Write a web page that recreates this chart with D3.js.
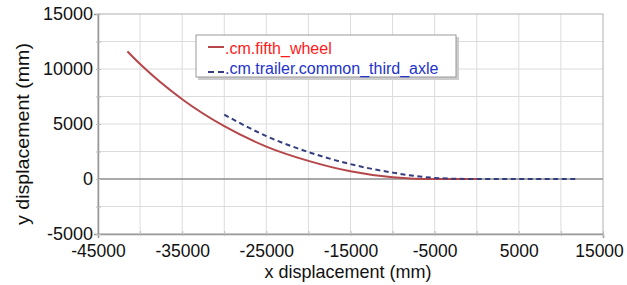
<!DOCTYPE html>
<html>
<head>
<meta charset="utf-8">
<script src="https://cdn.jsdelivr.net/npm/d3@7"></script>
<style>
  body { margin: 0; background: #fff; }
  text { font-family: "Liberation Sans", Arial, sans-serif; }
</style>
</head>
<body>
<div id="container"></div>
<script>
/* DATA */
const fifthX = [-41500, -40000, -35000, -30000, -25000, -20000, -15000, -10000, -7500, -5000, -2500, 0];
const fifthY = [11600, 10450, 7250, 4800, 2950, 1650, 700, 150, 30, 0, 0, 0];
const axleX = [-30000, -25000, -20000, -15000, -10000, -7500, -5000, -2500, 0, 5000, 12000];
const axleY = [5850, 3900, 2450, 1350, 580, 290, 100, 20, 0, 0, 0];
const seriesNames = [".cm.fifth_wheel", ".cm.trailer.common_third_axle"];
const xTicks = [-45000, -35000, -25000, -15000, -5000, 5000, 15000];
const yTicks = [-5000, 0, 5000, 10000, 15000];

/* CONSTANTS */
const width = 627, height = 285,
  margin = { top: 14, bottom: 51, left: 98, right: 24 };

const xScale = d3.scaleLinear()
  .domain([-45000, 15000])
  .range([margin.left, width - margin.right]);

const yScale = d3.scaleLinear()
  .domain([-5000, 15000])
  .range([height - margin.bottom, margin.top]);

const svg = d3.select("#container")
  .append("svg")
  .attr("width", width)
  .attr("height", height);

/* GRID */
svg.append("g")
  .selectAll("line")
  .data(d3.range(-40000, 15000, 5000))
  .join("line")
  .attr("x1", d => xScale(d)).attr("x2", d => xScale(d))
  .attr("y1", yScale(15000)).attr("y2", yScale(-5000))
  .attr("stroke", "#dcdcdc");

svg.append("g")
  .selectAll("line")
  .data(d3.range(-2500, 15000, 2500))
  .join("line")
  .attr("x1", xScale(-45000)).attr("x2", xScale(15000))
  .attr("y1", d => yScale(d)).attr("y2", d => yScale(d))
  .attr("stroke", d => d === 0 ? "#8c8c8c" : "#dcdcdc")
  .attr("stroke-width", d => d === 0 ? 1.3 : 1);

// frame
svg.append("rect")
  .attr("x", xScale(-45000)).attr("y", yScale(15000))
  .attr("width", xScale(15000) - xScale(-45000))
  .attr("height", yScale(-5000) - yScale(15000))
  .attr("fill", "none")
  .attr("stroke", "#b0b0b0");

/* AXES */
const xAxis = d3.axisBottom(xScale)
  .tickValues(d3.range(-45000, 15001, 5000))
  .tickSize(4)
  .tickFormat(d => xTicks.includes(d) ? d : "");

svg.append("g")
  .attr("transform", `translate(0,${yScale(-5000)})`)
  .call(xAxis)
  .call(g => g.select(".domain").attr("stroke", "#999").attr("stroke-width", 1.5))
  .call(g => g.selectAll(".tick line").attr("stroke", "#bbb").attr("y1", -3).attr("y2", 2))
  .call(g => g.selectAll(".tick text")
    .attr("font-size", 17.5).attr("fill", "#111").attr("dy", 0).attr("y", 23)
    .attr("x", d => d === 15000 ? -4 : 0));

const yAxis = d3.axisLeft(yScale)
  .tickValues(d3.range(-5000, 15001, 2500))
  .tickSize(4)
  .tickFormat(d => yTicks.includes(d) ? d : "");

svg.append("g")
  .attr("transform", `translate(${xScale(-45000)},0)`)
  .call(yAxis)
  .call(g => g.select(".domain").attr("stroke", "#999").attr("stroke-width", 1.5))
  .call(g => g.selectAll(".tick line").attr("stroke", "#bbb").attr("x1", 3).attr("x2", -2))
  .call(g => g.selectAll(".tick text")
    .attr("font-size", 18).attr("fill", "#111").attr("x", -5).attr("dy", "0.3em"));

/* TITLES */
svg.append("text")
  .attr("x", 348)
  .attr("y", 278)
  .attr("text-anchor", "middle")
  .attr("font-size", 18.5)
  .attr("fill", "#111")
  .attr("textLength", 167)
  .attr("lengthAdjust", "spacingAndGlyphs")
  .text("x displacement (mm)");

svg.append("text")
  .attr("transform", "translate(28.5,134) rotate(-90)")
  .attr("text-anchor", "middle")
  .attr("font-size", 18.5)
  .attr("fill", "#111")
  .attr("textLength", 182)
  .attr("lengthAdjust", "spacingAndGlyphs")
  .text("y displacement (mm)");

/* LINES */
const line = d3.line()
  .x(d => xScale(d[0]))
  .y(d => yScale(d[1]))
  .curve(d3.curveMonotoneX);

svg.append("path")
  .datum(d3.zip(fifthX, fifthY))
  .attr("d", line)
  .attr("fill", "none")
  .attr("stroke", "#b5474a")
  .attr("stroke-width", 2);

svg.append("path")
  .datum(d3.zip(axleX, axleY))
  .attr("d", line)
  .attr("fill", "none")
  .attr("stroke", "#353d7e")
  .attr("stroke-width", 2)
  .attr("stroke-dasharray", "5,3.5");

/* LEGEND */
const legend = svg.append("g").attr("transform", "translate(196,35)");

legend.append("rect")
  .attr("x", 2).attr("y", 2)
  .attr("width", 261).attr("height", 43)
  .attr("fill", "#ccc");

legend.append("rect")
  .attr("width", 260).attr("height", 42)
  .attr("fill", "#fff")
  .attr("stroke", "#999");

const legendColors = ["#b5474a", "#353d7e"];
const textColors = ["#ff1a1a", "#2233cc"];

seriesNames.forEach((name, i) => {
  legend.append("line")
    .attr("x1", 12).attr("x2", 28)
    .attr("y1", 12 + i * 25).attr("y2", 12 + i * 25)
    .attr("stroke", legendColors[i])
    .attr("stroke-width", 2)
    .attr("stroke-dasharray", i === 1 ? "6,4" : null);
  legend.append("text")
    .attr("x", 29)
    .attr("y", 19 + i * 20)
    .attr("font-size", 16)
    .attr("fill", textColors[i])
    .text(name);
});
</script>
</body>
</html>
